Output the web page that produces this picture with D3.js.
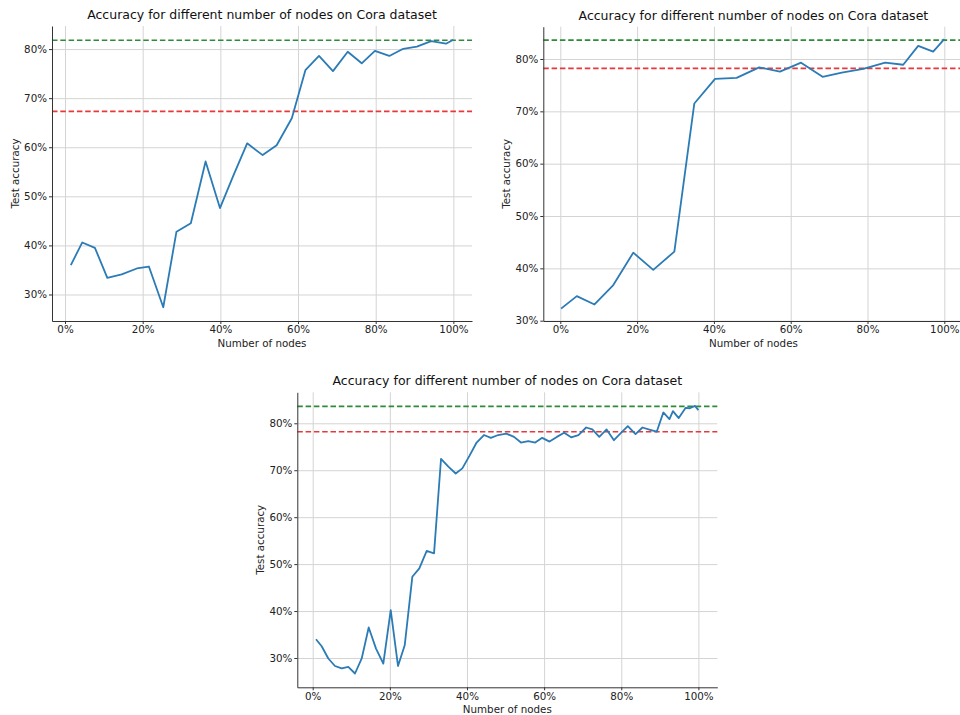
<!DOCTYPE html>
<html>
<head>
<meta charset="utf-8">
<script src="https://cdn.jsdelivr.net/npm/d3@7"></script>
<style>
body { margin: 0; background: #fff; }
svg { display: block; font-family: "DejaVu Sans", sans-serif; }
</style>
</head>
<body>
<script>
//texts and ticks shared by the three panels
var titleText = "Accuracy for different number of nodes on Cora dataset";
var xLabelText = "Number of nodes";
var yLabelText = "Test accuracy";
var xTicks = [0, 20, 40, 60, 80, 100];
var yTicks = [30, 40, 50, 60, 70, 80];

//panel 1 (top left)
var nodesA = [1.5, 4.45, 7.7, 10.9, 14.6, 18.5, 21.6, 25.3, 28.7, 32.4, 36.2, 39.9, 43.4, 46.9, 50.9,
	54.5, 58.4, 61.9, 65.4, 69.0, 72.8, 76.4, 79.8, 83.5, 87.1, 90.6, 94.3, 98.1, 100];
var accA = [36.0, 40.6, 39.5, 33.4, 34.1, 35.3, 35.7, 27.4, 42.8, 44.5, 57.1, 47.6, 54.3, 60.8, 58.4,
	60.4, 65.9, 75.7, 78.6, 75.5, 79.45, 77.1, 79.65, 78.6, 80.06, 80.5, 81.6, 81.1, 81.9];
var greenA = 81.8;
var redA = 67.3;

//panel 2 (top right)
var nodesB = [0.2, 4.3, 8.9, 13.8, 19.0, 24.2, 29.7, 34.9, 40.3, 45.9, 51.8, 57.2, 62.7, 68.3, 73.3,
	78.9, 84.6, 89.3, 93.2, 97.1, 100];
var accB = [32.3, 34.7, 33.1, 36.8, 43.0, 39.7, 43.2, 71.5, 76.2, 76.4, 78.4, 77.6, 79.3, 76.6, 77.4,
	78.1, 79.3, 78.9, 82.5, 81.4, 83.8];
var greenB = 83.6;
var redB = 78.2;

//panel 3 (bottom)
var nodesC = [0.86, 2.33, 4.05, 5.78, 7.52, 9.23, 10.97, 12.71, 14.52, 16.42, 18.31, 20.23, 22.12, 23.86,
	25.83, 27.65, 29.56, 31.46, 33.27, 35.17, 37.08, 38.8, 40.6, 42.5, 44.4, 46.2, 48.1, 50.2, 52.2,
	54.0, 55.9, 57.7, 59.5, 61.4, 63.3, 65.2, 67.0, 68.9, 70.9, 72.5, 74.3, 76.2, 78.1, 80.0, 81.7,
	83.7, 85.5, 87.5, 89.2, 90.9, 92.5, 93.4, 94.9, 96.7, 97.8, 99.1, 100];
var accC = [34.0, 32.5, 29.9, 28.3, 27.8, 28.1, 26.7, 29.9, 36.5, 32.0, 28.8, 40.2, 28.3, 32.7,
	47.3, 49.1, 52.8, 52.3, 72.4, 70.75, 69.3, 70.4, 73.0, 75.9, 77.5, 76.9, 77.5, 77.8, 77.1,
	75.9, 76.2, 75.9, 76.9, 76.1, 77.1, 78.0, 77.0, 77.5, 79.1, 78.7, 77.1, 78.7, 76.4, 78.0, 79.4,
	77.7, 79.1, 78.6, 78.2, 82.3, 80.9, 82.6, 81.1, 83.3, 83.2, 83.7, 82.8];
var greenC = 83.6;
var redC = 78.2;

//where each panel sits on the page
var layoutA = {left: 52, right: 472, top: 26, bottom: 321, xMin: -3.35, xMax: 104.8, yMin: 24.6, yMax: 84.7};
var layoutB = {left: 543.3, right: 963.5, top: 26.7, bottom: 321, xMin: -4.43, xMax: 105, yMin: 29.94, yMax: 86.17};
var layoutC = {left: 297.3, right: 717.3, top: 392.3, bottom: 687.3, xMin: -3.99, xMax: 104.9, yMin: 23.76, yMax: 86.6};

var svg = d3.select("body").append("svg")
	.attr("width", 960)
	.attr("height", 715);

drawPanel(layoutA, nodesA, accA, greenA, redA);
drawPanel(layoutB, nodesB, accB, greenB, redB);
drawPanel(layoutC, nodesC, accC, greenC, redC);

//draws one panel: grid, axes, line and the two reference lines
function drawPanel(lay, xs, ys, greenVal, redVal) {
	var g = svg.append("g");
	var xScale = d3.scaleLinear().domain([lay.xMin, lay.xMax]).range([lay.left, lay.right]);
	var yScale = d3.scaleLinear().domain([lay.yMin, lay.yMax]).range([lay.bottom, lay.top]);
	var height = lay.bottom - lay.top;
	var width = lay.right - lay.left;

	//grid lines
	var xGrid = g.append("g")
		.attr("transform", "translate(0," + lay.bottom + ")")
		.call(d3.axisBottom(xScale).tickValues(xTicks).tickSize(-height).tickFormat(""));
	var yGrid = g.append("g")
		.attr("transform", "translate(" + lay.left + ",0)")
		.call(d3.axisLeft(yScale).tickValues(yTicks).tickSize(-width).tickFormat(""));
	[xGrid, yGrid].forEach(function(grid) {
		grid.select(".domain").remove();
		grid.selectAll("line").attr("stroke", "#d4d4d4").attr("stroke-width", 1);
	});

	//dashed reference lines
	g.append("line")
		.attr("x1", lay.left).attr("x2", lay.right)
		.attr("y1", yScale(greenVal)).attr("y2", yScale(greenVal))
		.attr("stroke", "#2e8b3a").attr("stroke-width", 1.6)
		.attr("stroke-dasharray", "5.5,2.8");
	g.append("line")
		.attr("x1", lay.left).attr("x2", lay.right)
		.attr("y1", yScale(redVal)).attr("y2", yScale(redVal))
		.attr("stroke", "#e8393a").attr("stroke-width", 1.6)
		.attr("stroke-dasharray", "5.5,2.8");

	//accuracy line
	var line = d3.line()
		.x(function(d, i) { return xScale(xs[i]); })
		.y(function(d) { return yScale(d); });
	g.append("path")
		.datum(ys)
		.attr("d", line)
		.attr("fill", "none")
		.attr("stroke", "#2b7bb6")
		.attr("stroke-width", 1.8)
		.attr("stroke-linejoin", "round");

	//axes
	var xAxis = g.append("g")
		.attr("transform", "translate(0," + lay.bottom + ")")
		.call(d3.axisBottom(xScale).tickValues(xTicks).tickSize(3).tickSizeOuter(0).tickPadding(2)
			.tickFormat(function(d) { return d + "%"; }));
	var yAxis = g.append("g")
		.attr("transform", "translate(" + lay.left + ",0)")
		.call(d3.axisLeft(yScale).tickValues(yTicks).tickSize(3).tickSizeOuter(0).tickPadding(2)
			.tickFormat(function(d) { return d + "%"; }));
	[xAxis, yAxis].forEach(function(ax) {
		ax.select(".domain").attr("stroke", "#333").attr("stroke-width", 1);
		ax.selectAll(".tick line").attr("stroke", "#333");
		ax.selectAll("text")
			.attr("fill", "#222")
			.attr("font-size", 10.3)
			.attr("font-family", "DejaVu Sans, sans-serif");
	});

	//title and axis labels
	g.append("text")
		.attr("x", (lay.left + lay.right) / 2)
		.attr("y", lay.top - 7)
		.attr("text-anchor", "middle")
		.attr("font-size", 12.5)
		.attr("fill", "#111")
		.text(titleText);
	g.append("text")
		.attr("x", (lay.left + lay.right) / 2)
		.attr("y", lay.bottom + 26)
		.attr("text-anchor", "middle")
		.attr("font-size", 10.3)
		.attr("fill", "#222")
		.text(xLabelText);
	g.append("text")
		.attr("transform", "translate(" + (lay.left - 37) + "," + ((lay.top + lay.bottom) / 2) + ") rotate(-90)")
		.attr("text-anchor", "middle")
		.attr("dominant-baseline", "central")
		.attr("font-size", 10.3)
		.attr("fill", "#222")
		.text(yLabelText);
}
</script>
</body>
</html>
